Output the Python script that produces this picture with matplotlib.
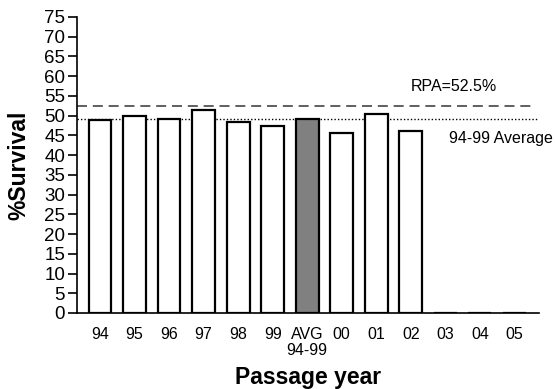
import matplotlib
matplotlib.use("Agg")
import matplotlib.pyplot as plt
import numpy as np

plt.rcParams['font.family'] = ['Liberation Sans', 'DejaVu Sans']

# Passage years and survival percentages
years = ["94", "95", "96", "97", "98", "99", "AVG\n94-99", "00", "01", "02", "03", "04", "05"]
survival = [48.9, 49.8, 49.2, 51.4, 48.4, 47.4, 49.2, 45.6, 50.3, 46.1, 0, 0, 0]
bar_colors = ["white"] * 6 + ["#808080"] + ["white"] * 6

rpa_level = 52.5
avg_level = 49.2

fig = plt.figure(figsize=(5.55, 3.89), dpi=100)
ax = fig.add_axes([0.1387, 0.1954, 0.8323, 0.7609])

x = np.arange(len(years))
ax.bar(x, survival, width=0.66, color=bar_colors, edgecolor="black", linewidth=1.6, zorder=3)

ax.axhline(rpa_level, xmin=0, xmax=0.985, color="#444444", linestyle=(0, (6, 3.5)), linewidth=1.2, zorder=2)
ax.axhline(avg_level, color="black", linestyle=(0, (1, 1.5)), linewidth=1.0, zorder=2)

ax.text(9.0, rpa_level + 4.8, "RPA=52.5%", fontsize=11.5, ha="left", va="center")
ax.text(10.1, avg_level - 5.1, "94-99 Average", fontsize=11.5, ha="left", va="center")

ax.set_xlim(-0.666, 12.71)
ax.set_ylim(0, 75)
ax.set_yticks(np.arange(0, 76, 5))
ax.tick_params(axis="y", labelsize=13.5, length=6.5, width=1.2, pad=2)
ax.set_xticks(x)
ax.set_xticklabels(years, fontsize=11.5, linespacing=1.1)
ax.tick_params(axis="x", length=0, pad=10)

for side in ("top", "right"):
    ax.spines[side].set_visible(False)
for side in ("left", "bottom"):
    ax.spines[side].set_linewidth(1.2)

ax.set_ylabel("%Survival", fontsize=16.5, fontweight="bold", labelpad=10)
ax.set_xlabel("Passage year", fontsize=16.5, fontweight="bold", labelpad=6)

fig.savefig("out.png", dpi=100)
